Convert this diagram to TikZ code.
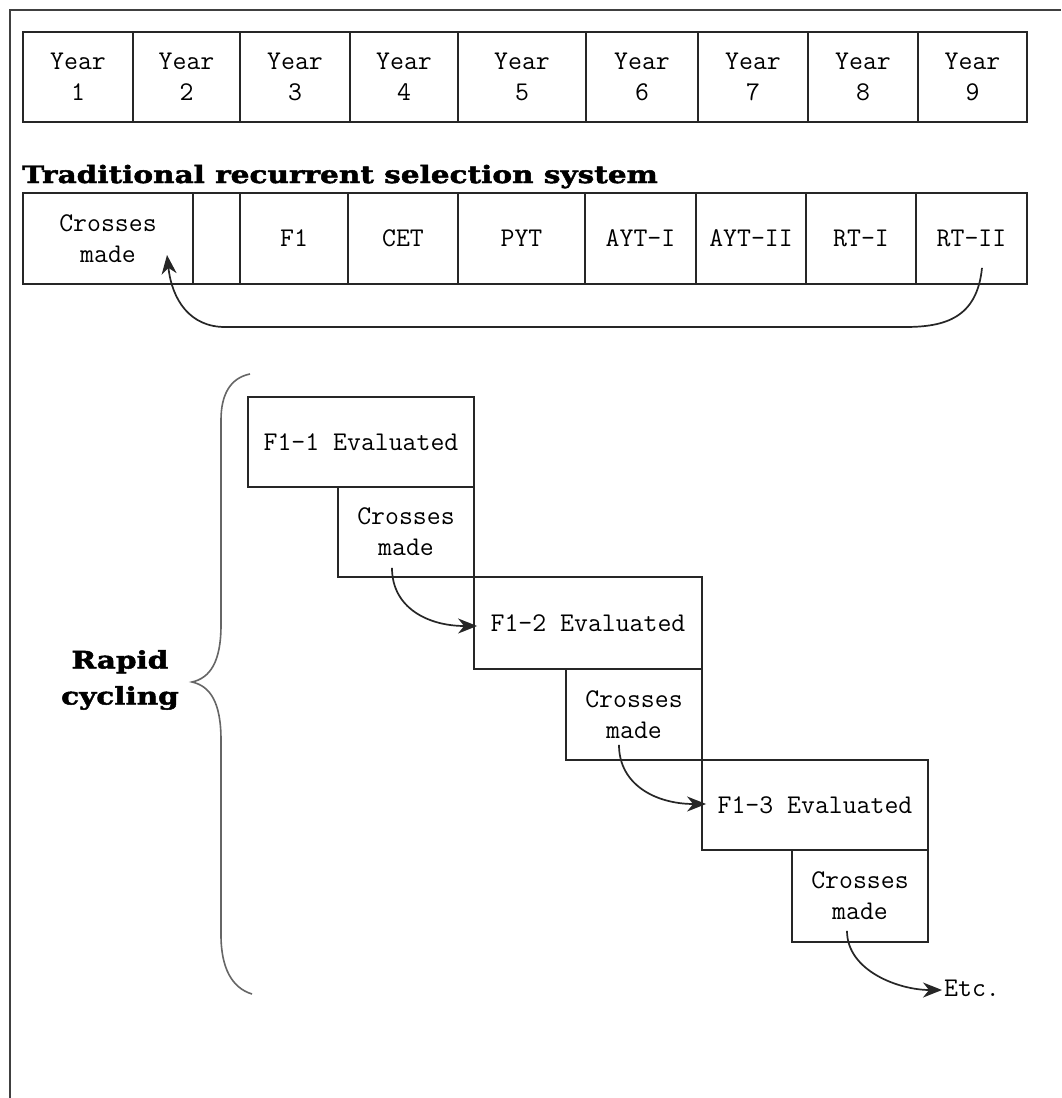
\documentclass[tikz,border=0pt]{standalone}
\usepackage{fontspec}
\newfontfamily\slabfont{DejaVu Serif}[FakeStretch=1.23, BoldFeatures={FakeStretch=1.23, FakeBold=2}]
\usetikzlibrary{arrows.meta,calc}
\tikzset{
  cell/.style={draw=black!85, line width=1.8pt, inner sep=0pt, align=center,
    font=\fontsize{27}{31}\selectfont\ttfamily},
  txt/.style={inner sep=0pt, align=center, font=\fontsize{27}{31}\selectfont\ttfamily},
  heading/.style={inner sep=0pt, align=center, font=\fontsize{24}{34}\selectfont\slabfont\bfseries},
  flow/.style={line width=1.7pt, black!85, -{Stealth[length=19pt,width=15pt,inset=6pt]}},
  frame/.style={line width=2pt, black!75},
  bracepath/.style={line width=1.6pt, black!60}
}
\begin{document}
\begin{tikzpicture}[x=1pt,y=-1pt]
\useasboundingbox (0,0) rectangle (1061,1098);
\fill[white] (0,0) rectangle (1061,1098);
\draw[frame] (10,1098) -- (10,10) -- (1061,10);

% Year row
\node[cell, minimum width=110, minimum height=90] (y1) at (78,77) {Year\\1};
\node[cell, minimum width=107, minimum height=90] (y2) at (186.5,77) {Year\\2};
\node[cell, minimum width=110, minimum height=90] (y3) at (295,77) {Year\\3};
\node[cell, minimum width=108, minimum height=90] (y4) at (404,77) {Year\\4};
\node[cell, minimum width=128, minimum height=90] (y5) at (522,77) {Year\\5};
\node[cell, minimum width=112, minimum height=90] (y6) at (642,77) {Year\\6};
\node[cell, minimum width=110, minimum height=90] (y7) at (753,77) {Year\\7};
\node[cell, minimum width=110, minimum height=90] (y8) at (863,77) {Year\\8};
\node[cell, minimum width=109, minimum height=90] (y9) at (972.5,77) {Year\\9};

% Title
\node[heading, anchor=base west] (title) at (22,183) {Traditional recurrent selection system};

% Traditional row
\node[cell, minimum width=170, minimum height=91] (cm) at (108,238.5) {Crosses\\made};
\node[cell, minimum width=47, minimum height=91] (blank) at (216.5,238.5) {};
\node[cell, minimum width=108, minimum height=91] (f1) at (294,238.5) {F1};
\node[cell, minimum width=110, minimum height=91] (cet) at (403,238.5) {CET};
\node[cell, minimum width=127, minimum height=91] (pyt) at (521.5,238.5) {PYT};
\node[cell, minimum width=111, minimum height=91] (ayt1) at (640.5,238.5) {AYT-I};
\node[cell, minimum width=110, minimum height=91] (ayt2) at (751,238.5) {AYT-II};
\node[cell, minimum width=110, minimum height=91] (rt1) at (861,238.5) {RT-I};
\node[cell, minimum width=111, minimum height=91] (rt2) at (971.5,238.5) {RT-II};

\coordinate (rtstart) at ($(rt2.south)+(10.5,-17)$);
\coordinate (cmend) at ($(cm.center)+(59,16.5)$);
\draw[flow] (rtstart) .. controls (977,318) and (945,327) .. (905,327)
  -- (225,327) .. controls (190,327) and (172,300) .. (cmend);

% Rapid cycling
\draw[bracepath] (250,374) .. controls (230,378) and (221,395) .. (221,420)
  -- (221,625) .. controls (221,662) and (210,678) .. (192,682)
  .. controls (210,686) and (221,702) .. (221,740)
  -- (221,935) .. controls (221,968) and (232,988) .. (252,994);
\node[heading, font=\fontsize{24}{36}\selectfont\slabfont\bfseries] (rapid) at (120,680) {Rapid\\cycling};

\node[cell, minimum width=226, minimum height=90] (e1) at (361,442) {F1-1 Evaluated};
\node[cell, minimum width=136, minimum height=90] (c1) at (406,532) {Crosses\\made};
\node[cell, minimum width=228, minimum height=92] (e2) at (588,623) {F1-2 Evaluated};
\node[cell, minimum width=136, minimum height=91] (c2) at (634,714.5) {Crosses\\made};
\node[cell, minimum width=226, minimum height=90] (e3) at (815,805) {F1-3 Evaluated};
\node[cell, minimum width=136, minimum height=92] (c3) at (860,896) {Crosses\\made};
\node[txt, anchor=west] (etc) at (944,988) {Etc.};

\coordinate (s1) at ($(c1.south)+(-14,-10)$);
\coordinate (s2) at ($(c2.south)+(-15,-16)$);
\coordinate (s3) at ($(c3.south)+(-13,-12)$);
\draw[flow] (s1) .. controls ($(s1)+(0,40)$) and ($(e2.west)+(-45,3)$) .. ($(e2.west)+(4,3)$);
\draw[flow] (s2) .. controls ($(s2)+(0,40)$) and ($(e3.west)+(-45,-1)$) .. ($(e3.west)+(5,-1)$);
\draw[flow] (s3) .. controls ($(s3)+(0,40)$) and ($(etc.west)+(-45,2)$) .. ($(etc.west)+(-2,2)$);
\end{tikzpicture}
\end{document}
